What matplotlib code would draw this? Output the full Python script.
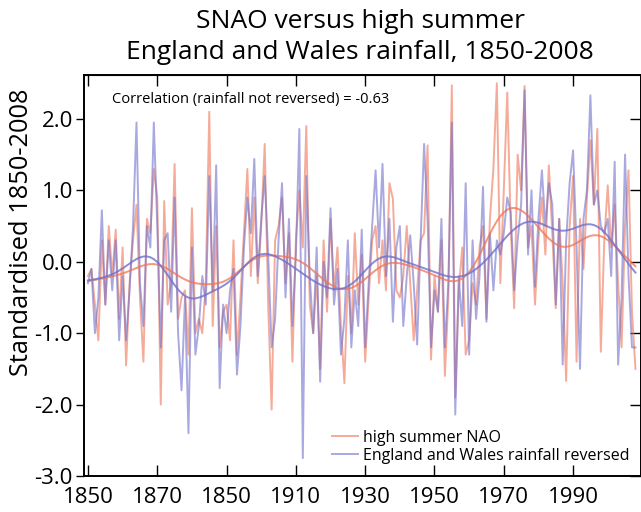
import numpy as np
import matplotlib
matplotlib.use("Agg")
import matplotlib.pyplot as plt

plt.rcParams['font.family'] = ['Open Sans', 'DejaVu Sans']

years = np.arange(1850, 2009)

# high summer NAO, standardised
nao = [
    -0.2, -0.1, -0.6, -1.1, 0.3, -0.6, 0.5, -0.2, 0.45, -0.8,
    0.2, -1.45, -0.3, 0.3, 0.8, -0.5, -1.4, 0.6, 0.4, 1.3,
    0.9, -2.0, 0.85, -0.6, -0.3, 1.37, -0.8, -0.5, -0.4, -1.3,
    0.75, -1.0, -0.8, -1.0, -0.3, 2.1, -0.9, 0.5, -1.2, -0.7,
    -0.6, -1.1, 0.3, -1.3, -0.5, 0.4, 1.3, -0.2, 0.9, -0.3,
    0.5, 1.65, -0.6, -2.07, 0.3, 0.5, 0.9, -0.3, 0.4, -1.4,
    0.3, 1.0, 0.2, 1.9, -0.6, -1.0, -0.2, -1.5, 0.3, -0.7,
    0.6, -0.4, 0.2, -0.9, -1.7, -0.2, -1.0, 0.4, -0.6, 0.1,
    -1.4, -0.5, 0.3, 0.5, -0.3, 0.3, -0.4, 1.1, 0.88, -0.4,
    -0.5, -0.2, 0.5, -0.3, -1.1, -0.4, 0.3, 0.4, 1.63, -1.37,
    -0.2, -0.7, 0.3, -1.6, -0.5, 2.47, -1.9, -0.4, 0.2, -1.3,
    -1.1, -0.3, -0.6, 0.2, 0.5, -0.8, 0.6, 1.3, 2.5, -0.3,
    1.0, 2.37, 0.5, -0.65, 1.5, 1.0, 2.46, 0.2, 0.5, -0.6,
    0.3, 0.9, 0.1, 1.35, 0.4, -0.65, 0.6, -0.3, -1.67, 0.5,
    1.2, -1.4, 0.6, -0.1, 0.9, 1.7, 0.8, 1.86, -1.26, 0.3,
    1.07, 0.2, 0.8, -0.3, -1.2, 0.5, 1.28, -0.7, -1.5,
]

# England and Wales high summer rainfall, standardised, sign reversed
rain_rev = [
    -0.3, -0.1, -1.0, -0.5, 0.72, -0.6, 0.3, -0.4, 0.3, -1.1,
    -0.2, -1.1, -0.4, 0.5, 1.95, -0.3, -0.9, 0.5, 0.2, 1.95,
    0.5, -1.2, 0.3, 0.4, -0.7, 0.9, -1.0, -1.8, -0.5, -2.4,
    0.2, -1.3, -0.9, -0.2, -0.6, 1.2, -0.4, 1.35, -1.77, -0.6,
    -1.0, -0.4, -0.1, -1.58, -0.9, 0.2, 0.9, 0.4, 1.44, -0.2,
    0.6, 1.2, 0.1, -1.2, -0.8, 0.3, 1.1, -0.5, 0.6, -0.9,
    0.1, 1.86, -2.75, 1.2, -0.2, -1.0, 0.2, -1.68, 0.0, -0.5,
    0.75, -0.6, -0.1, -1.3, -0.8, 0.3, -1.2, -0.4, -0.9, 0.45,
    -1.2, -0.3, 0.5, 1.28, 0.2, 1.37, -0.2, 0.6, -0.84, 0.2,
    0.5, -0.9, -0.2, 0.37, -0.3, -1.16, 0.3, 1.65, 0.6, -1.2,
    -0.4, -0.7, 0.6, -1.2, -0.3, 1.95, -2.14, -0.2, -0.9, 1.1,
    -1.3, 0.3, -0.8, -0.2, 1.05, -0.84, 0.4, -0.4, 0.3, 0.1,
    0.4, 0.9, 0.7, -0.4, 0.3, 0.8, 2.4, 0.1, 1.0, -0.35,
    0.6, 1.28, 0.5, 1.1, 0.8, -0.6, 0.6, -1.44, 0.3, 1.1,
    1.56, 0.2, -1.5, 0.6, 1.0, 2.33, 0.8, 1.0, 0.5, 0.4,
    0.6, -0.2, 1.4, -1.44, -0.5, 1.5, -0.2, -1.2, -1.2,
]

xtick_years = [1850, 1870, 1890, 1910, 1930, 1950, 1970, 1990]
xtick_labels = ['1850', '1870', '1850', '1910', '1930', '1950', '1970', '1990']
ytick_vals = [-3.0, -2.0, -1.0, 0.0, 1.0, 2.0]

nao = np.array(nao)
rain_rev = np.array(rain_rev)


def gauss_smooth(t, y, sigma=5.5):
    # gaussian weighted running mean, weights renormalised at the ends
    out = np.empty_like(y)
    for i, ti in enumerate(t):
        w = np.exp(-0.5 * ((t - ti) / sigma) ** 2)
        out[i] = np.sum(w * y) / np.sum(w)
    return out


c_nao = '#ee7456'
c_rain = '#7070cc'

fig = plt.figure(figsize=(6.41, 5.12), dpi=100)
ax = fig.add_axes([84/641, 1 - 476/512, 1 - 84/641, (476 - 75)/512])

ax.plot(years, nao, color=c_nao, lw=1.4, alpha=0.6, label='high summer NAO')
ax.plot(years, rain_rev, color=c_rain, lw=1.4, alpha=0.6,
        label='England and Wales rainfall reversed')
ax.plot(years, gauss_smooth(years, nao), color=c_nao, lw=1.4, alpha=0.75)
ax.plot(years, gauss_smooth(years, rain_rev), color=c_rain, lw=1.4, alpha=0.8)

ax.set_xlim(1848.85, 2009.6)
ax.set_ylim(-3.0, 2.615)

ax.set_xticks(xtick_years)
ax.set_xticklabels(xtick_labels)
ax.set_yticks(ytick_vals)
ax.set_yticklabels(['%.1f' % v for v in ytick_vals])
ax.tick_params(axis='x', direction='in', length=8, width=1, labelsize=16, pad=8)
ax.tick_params(axis='y', direction='out', length=6, width=1, labelsize=16, pad=2)

top = ax.secondary_xaxis('top')
top.set_xticks(xtick_years)
top.tick_params(direction='in', length=8, width=1, labeltop=False)
right = ax.secondary_yaxis('right')
right.set_yticks(ytick_vals)
right.tick_params(direction='in', length=8, width=1, labelright=False)

for s in ax.spines.values():
    s.set_linewidth(1.4)

fig.text(22/641, 1 - 232/512, 'Standardised 1850-2008', rotation=90,
         ha='center', va='center', fontsize=18.3)
fig.text(360/641, 1 - 9/512, 'SNAO versus high summer\nEngland and Wales rainfall, 1850-2008',
         ha='center', va='top', fontsize=19, linespacing=1.3)

ax.text(28/557, 1 - 25/401, 'Correlation (rainfall not reversed) = -0.63',
        transform=ax.transAxes, fontsize=10.5, va='center')

ax.legend(loc='lower right', frameon=False, fontsize=11.5, handlelength=1.6,
          handletextpad=0.3, borderaxespad=0.35, labelspacing=0.15)

fig.savefig('out.png', dpi=100)
